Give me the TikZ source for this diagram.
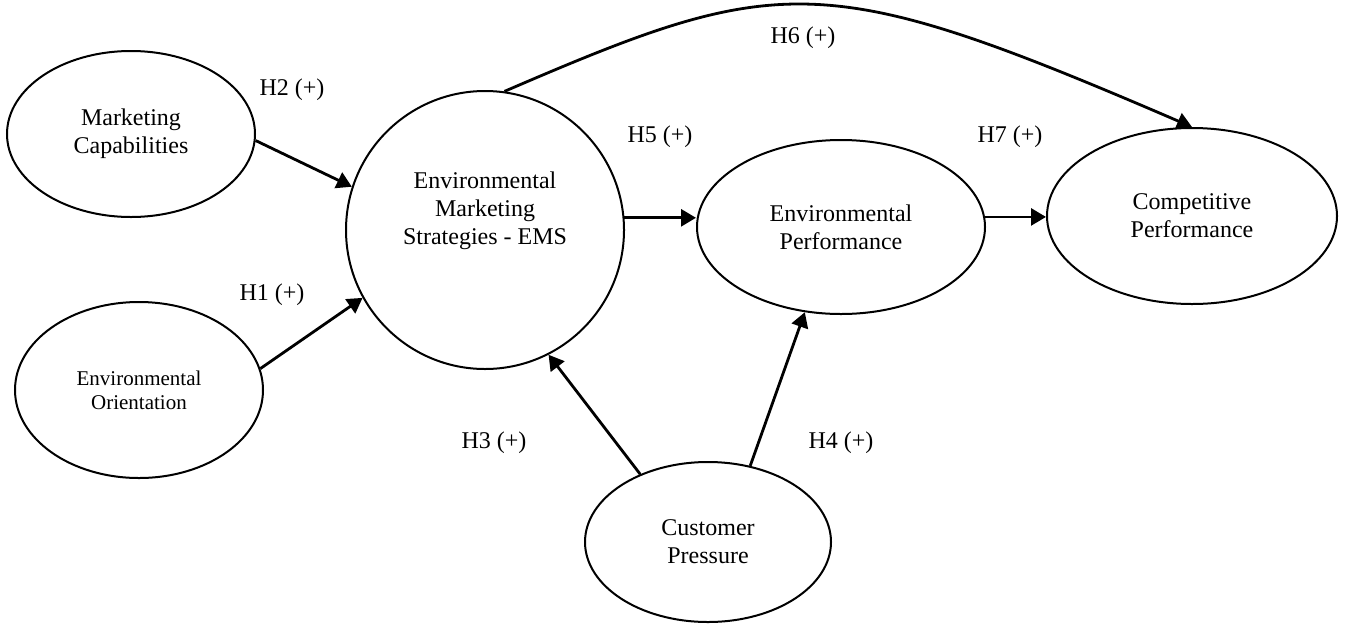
\documentclass[tikz,border=0pt]{standalone}
\usepackage{fontspec}
\setmainfont{Liberation Serif}
\usetikzlibrary{shapes.geometric,arrows.meta}
\tikzset{
    construct/.style={ellipse, draw=black, line width=1pt, align=center, inner sep=2pt, font=\fontsize{12}{14}\selectfont},
    hyp/.style={inner sep=1pt, font=\fontsize{12}{14}\selectfont},
    link/.style={line width=1.4pt, -{Triangle[length=7.5pt,width=8.5pt]}}
}
\begin{document}
\begin{tikzpicture}[x=0.5pt, y=-0.5pt]
    \useasboundingbox (0,0) rectangle (1348,627);
    \node (mc) [construct, minimum width=124pt, minimum height=83pt] at (131,134) {Marketing\\Capabilities};
    \node (eo) [construct, minimum width=124pt, minimum height=88pt, font=\fontsize{10.5}{12}\selectfont] at (139,390) {Environmental\\Orientation};
    \node (ems) [circle, draw=black, line width=1pt, minimum size=139pt] at (485,230) {};
    \node (emstext) [align=center, font=\fontsize{12}{14}\selectfont] at (485,211) {Environmental\\Marketing\\Strategies - EMS};
    \node (ep) [construct, minimum width=144pt, minimum height=87pt] at (841,227) {Environmental\\Performance};
    \node (cp) [construct, minimum width=145pt, minimum height=88pt] at (1192,216) {Competitive\\Performance};
    \node (cust) [construct, minimum width=123pt, minimum height=80pt] at (708,542) {Customer\\Pressure};

    \draw[link] (mc.-3) -- (ems.162);
    \draw[link] (eo.10) -- (ems.209);
    \draw[link] (ems.5) -- (ems.5 -| ep.west);
    \draw[link] (ep.4) -- (ep.4 -| cp.west);
    \draw[link] (cust.135) -- (ems.297);
    \draw[link] (cust.61) -- (ep.247);
    \draw[link] (ems.82) .. controls +(276,-119) and +(-369,-159) .. (cp.north);

    \node (h1) [hyp] at (272,295) {H1 (+)};
    \node (h2) [hyp] at (292,90) {H2 (+)};
    \node (h3) [hyp] at (494,443) {H3 (+)};
    \node (h4) [hyp] at (841,443) {H4 (+)};
    \node (h5) [hyp] at (660,137) {H5 (+)};
    \node (h6) [hyp] at (803,38) {H6 (+)};
    \node (h7) [hyp] at (1010,137) {H7 (+)};
\end{tikzpicture}
\end{document}
